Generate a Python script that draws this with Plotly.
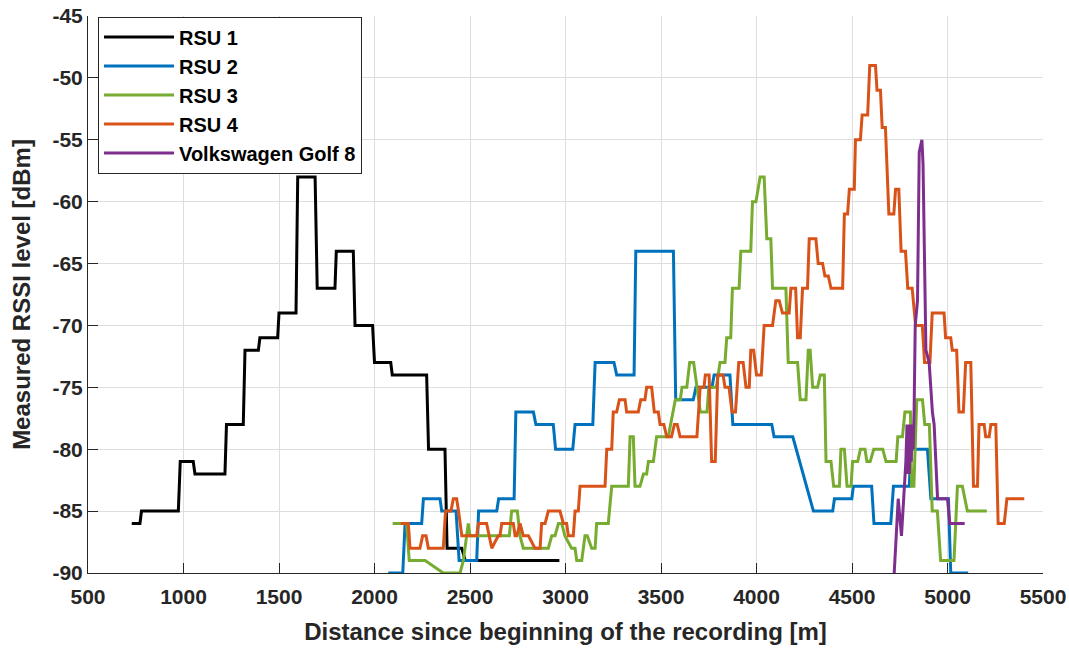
import plotly.graph_objects as go

# ---------------- data ----------------
names = ["RSU 1", "RSU 2", "RSU 3", "RSU 4", "Volkswagen Golf 8"]
colors = ["#000000", "#0072BD", "#77AC30", "#D95319", "#7E2F8E"]

rsu1_x = [729, 772, 780, 973, 983, 1051, 1060, 1217, 1225, 1313, 1322, 1392, 1400, 1493, 1500,
          1589, 1598, 1689, 1700, 1793, 1800, 1889, 1898, 1990, 2000, 2085, 2093, 2273, 2283,
          2369, 2380, 2457, 2475, 2968]
rsu1_y = [-86, -86, -85, -85, -81, -81, -82, -82, -78, -78, -72, -72, -71, -71, -69,
          -69, -58, -58, -67, -67, -64, -64, -70, -70, -73, -73, -74, -74, -80,
          -80, -88, -88, -89, -89]

rsu2_x = [2072, 2148, 2160, 2247, 2256, 2343, 2352, 2427, 2443, 2535, 2545, 2640, 2650, 2731,
          2740, 2832, 2845, 2936, 2948, 3038, 3050, 3143, 3155, 3254, 3268, 3359, 3368, 3565,
          3577, 3669, 3683, 3767, 3778, 3861, 3876, 4080, 4092, 4190, 4298, 4399, 4408, 4499,
          4507, 4603, 4615, 4703, 4717, 4800, 4808, 4895, 4913, 5005, 5017, 5108]
rsu2_y = [-90, -90, -86, -86, -84, -84, -85, -85, -89, -89, -85, -85, -84, -84,
          -77, -77, -78, -78, -80, -80, -78, -78, -73, -73, -74, -74, -64, -64,
          -76, -76, -75, -75, -74, -74, -78, -78, -79, -79, -85, -85, -84, -84,
          -83, -83, -86, -86, -83, -83, -80, -80, -84, -84, -90, -90]

rsu3_x = [2095, 2168, 2182, 2265, 2360, 2448, 2465, 2491, 2500, 2706, 2718, 2748, 2762, 2779,
          2910, 2928, 2945, 2963, 2980, 2997, 3032, 3050, 3059, 3085, 3102, 3114, 3137, 3155,
          3163, 3224, 3242, 3329, 3338, 3355, 3364, 3390, 3408, 3425, 3434, 3460, 3477, 3538,
          3575, 3601, 3610, 3635, 3650, 3671, 3706, 3741, 3750, 3790, 3809, 3835, 3844, 3865,
          3874, 3909, 3918, 3970, 3979, 3997, 4019, 4040, 4054, 4075, 4084, 4154, 4166, 4215,
          4229, 4259, 4271, 4281, 4294, 4320, 4334, 4355, 4364, 4390, 4404, 4434, 4442, 4460,
          4474, 4495, 4503, 4530, 4544, 4568, 4578, 4595, 4614, 4661, 4678, 4731, 4740, 4764,
          4777, 4806, 4812, 4824, 4839, 4869, 4881, 4905, 4920, 4947, 4964, 5034, 5052, 5078,
          5104, 5206]
rsu3_y = [-86, -86, -89, -89, -90, -90, -89, -86, -87, -87, -85, -85, -87, -88,
          -88, -87, -87, -86, -86, -87, -88, -88, -89, -89, -87, -87, -88, -88,
          -86, -86, -83, -83, -79, -79, -83, -83, -82, -82, -81, -81, -79, -79,
          -76, -76, -75, -75, -73, -73, -77, -77, -75, -75, -73, -73, -71, -71,
          -67, -67, -64, -64, -60, -60, -58, -58, -63, -63, -67, -67, -73, -73,
          -76, -76, -72, -72, -75, -75, -74, -74, -81, -81, -83, -83, -80, -80,
          -83, -83, -81, -81, -80, -80, -81, -81, -80, -80, -81, -81, -79, -79,
          -77, -77, -83, -83, -76, -76, -78, -78, -85, -85, -89, -89, -83, -83,
          -85, -85]

rsu4_x = [2137, 2177, 2186, 2238, 2252, 2270, 2282, 2360, 2372, 2400, 2413, 2430, 2440, 2457,
          2535, 2544, 2587, 2600, 2614, 2648, 2657, 2666, 2727, 2736, 2745, 2762, 2779, 2806,
          2840, 2867, 2875, 2893, 2910, 2971, 2989, 3006, 3015, 3041, 3050, 3067, 3076, 3207,
          3216, 3242, 3250, 3268, 3282, 3312, 3320, 3381, 3394, 3416, 3425, 3451, 3465, 3486,
          3495, 3515, 3530, 3555, 3570, 3585, 3600, 3688, 3705, 3725, 3732, 3752, 3765, 3784,
          3797, 3825, 3835, 3856, 3872, 3890, 3907, 3930, 3945, 3962, 3970, 3985, 4000, 4025,
          4040, 4084, 4101, 4119, 4136, 4171, 4180, 4205, 4215, 4229, 4241, 4267, 4276, 4311,
          4323, 4346, 4358, 4376, 4390, 4451, 4460, 4477, 4486, 4512, 4518, 4544, 4553, 4582,
          4593, 4623, 4631, 4649, 4658, 4675, 4693, 4719, 4728, 4745, 4757, 4780, 4792, 4815,
          4833, 4868, 4880, 4908, 4920, 4982, 4990, 5017, 5025, 5048, 5060, 5083, 5095, 5122,
          5136, 5157, 5165, 5192, 5200, 5218, 5227, 5253, 5265, 5297, 5311, 5402]
rsu4_y = [-86, -86, -88, -88, -87, -87, -88, -88, -85, -85, -84, -84, -85, -87,
          -87, -86, -86, -87, -88, -87, -87, -86, -86, -87, -87, -86, -87, -87,
          -88, -88, -86, -86, -85, -85, -86, -86, -87, -87, -85, -85, -83, -83,
          -80, -80, -77, -77, -76, -76, -77, -77, -76, -76, -75, -75, -77, -77,
          -78, -78, -79, -79, -78, -78, -79, -79, -75, -75, -74, -74, -81, -81,
          -74, -74, -75, -75, -77, -77, -73, -73, -75, -75, -72, -72, -74, -74,
          -70, -70, -68, -68, -69, -69, -67, -67, -71, -71, -67, -67, -63, -63,
          -65, -65, -66, -66, -67, -67, -61, -61, -59, -59, -55, -55, -53, -53,
          -49, -49, -51, -51, -54, -54, -61, -61, -59, -59, -64, -64, -67, -67,
          -70, -70, -73, -73, -69, -69, -71, -71, -72, -72, -77, -77, -73, -73,
          -83, -83, -78, -78, -79, -79, -78, -78, -86, -86, -84, -84]

golf_x = [4721, 4742, 4759, 4782, 4788, 4792, 4796, 4800, 4805, 4810, 4815, 4820, 4825,
          4831, 4843, 4852, 4866, 4872, 4887, 4904, 4921, 4930, 4948, 5000, 5012, 5090]
golf_y = [-90, -84, -87, -81, -78, -82, -78, -82, -78, -81, -78, -80, -77,
          -70, -68, -56, -55, -57, -72, -73, -77, -78, -84, -84, -86, -86]

x_ticks = [500, 1000, 1500, 2000, 2500, 3000, 3500, 4000, 4500, 5000, 5500]
y_ticks = [-90, -85, -80, -75, -70, -65, -60, -55, -50, -45]
x_tick_text = ["500", "1000", "1500", "2000", "2500", "3000", "3500", "4000", "4500", "5000", "5500"]
y_tick_text = ["-90", "-85", "-80", "-75", "-70", "-65", "-60", "-55", "-50", "-45"]

series_x = [rsu1_x, rsu2_x, rsu3_x, rsu4_x, golf_x]
series_y = [rsu1_y, rsu2_y, rsu3_y, rsu4_y, golf_y]

# ---------------- figure ----------------
FONT = "Liberation Sans, Arial, Helvetica, sans-serif"
TXT = "#262626"

fig = go.Figure()
for nm, col, xs, ys in zip(names, colors, series_x, series_y):
    fig.add_trace(go.Scatter(x=xs, y=ys, mode="lines", name=nm,
                             line=dict(color=col, width=3)))

axis_common = dict(
    automargin=False,
    showgrid=True, gridcolor="#dedede", gridwidth=1,
    showline=True, linecolor=TXT, linewidth=1, mirror=False,
    ticks="inside", ticklen=10, tickwidth=1, tickcolor=TXT,
    zeroline=False,
    tickfont=dict(family=FONT, size=21, color=TXT, weight="bold"),
)

fig.update_layout(
    width=1069, height=648,
    margin=dict(l=88, r=26, t=16, b=75),
    paper_bgcolor="white", plot_bgcolor="white",
    font=dict(family=FONT, color=TXT, weight="bold"),
    xaxis=dict(range=[500, 5500], tickvals=x_ticks, ticktext=x_tick_text,
               ticklabelstandoff=5,
               title=dict(text="Distance since beginning of the recording [m]",
                          font=dict(family=FONT, size=24, color=TXT, weight="bold")),
               **axis_common),
    yaxis=dict(range=[-90, -45], tickvals=y_ticks, ticktext=y_tick_text,
               title=dict(text="Measured RSSI level [dBm]",
                          font=dict(family=FONT, size=24, color=TXT, weight="bold")),
               **axis_common),
    legend=dict(x=0.0105, y=0.999, xanchor="left", yanchor="top",
                bgcolor="white", bordercolor=TXT, borderwidth=1,
                font=dict(family=FONT, size=20, color="#000000", weight="bold"),
                itemwidth=70, tracegroupgap=0),
    showlegend=True,
)

fig.write_html("out.html")
